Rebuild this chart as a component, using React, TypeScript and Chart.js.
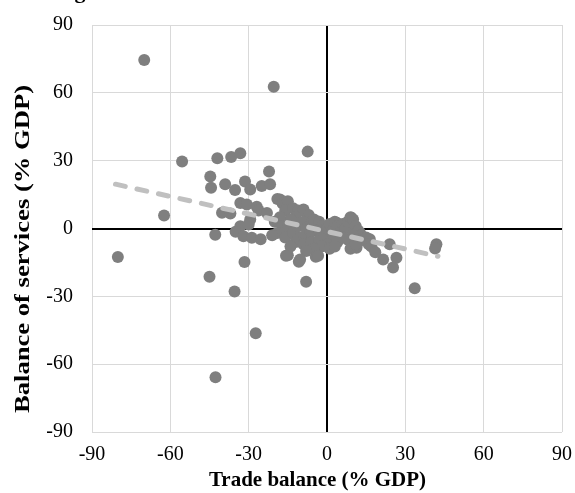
import React, { useEffect, useRef } from "react";
import { Chart, registerables } from "chart.js";

Chart.register(...registerables);

// Trade balance (% GDP), x values
const tradeBalance: number[] = [
  -70, -20.4, -7.4, -55.5, -62.4, -42, -36.7, -33.2, -44.7, -44.4,
  -39, -35.2, -31.4, -29.4, -22.2, -25, -21.8, -40.2, -37, -33.2,
  -30.7, -26.9, -26.2, -23, -29.4, -33.2, -30, -42.8, -35, -32,
  -28.8, -25.4, -80.1, -31.6, -45, -35.4, -27.3, -42.7, -15, -10.8,
  -8, -4.3, 33.6, 41.9, 41.4, 24, 21.5, 26.6, 25.3, 9.4,
  3.7, 12.6, 11.3, 16.4, 2.4, -18, -9, 8.8,
  -19, -17, -15, -16, -13, -11, -9, -7, -12, -14,
  -18, -20, -17, -15, -19, -21, -16, -13, -11, -9,
  -8, -6, -5, -3, -2, -4, -7, -10, -12, -14,
  -9, -6, -3, -1, 0, 1, 2, 3, 4, 5,
  6, 7, 8, 9, 10, 11, 12, 13, 14, 15,
  16, 17, 12, 10, 8, 6, 4, 2, 0, -2,
  -5, -8, 1, 3, 9, 11, -15.7, -10.3, -3.4, 18.5,
];

// Balance of services (% GDP), y values
const servicesBalance: number[] = [
  74.5, 62.7, 34, 29.6, 5.7, 31.1, 31.6, 33.3, 23, 18,
  19.6, 17, 20.8, 17.2, 25.2, 18.8, 19.6, 7, 6.6, 11.3,
  10.6, 9.6, 8, 6.9, 4, 1, 1.8, -2.8, -1.4, -3.4,
  -4.1, -4.8, -12.6, -14.8, -21.3, -27.9, -46.3, -65.8, -11.8, -14.7,
  -23.5, -12.5, -26.4, -7, -8.8, -7, -13.7, -12.9, -17.3, 4.7,
  2.5, -1.9, -8.5, -4.8, -7.8, 12.8, 8.4, 4,
  13, 11, 12, 8, 9, 8, 8, 6, 5, 4,
  5, 3, 1, 0, -2, -3, -4, -2, 1, 3,
  0, 2, 4, 3, 1, -1, -3, -4, -6, -8,
  -7, -6, -5, -3, 0, 2, -1, 3, 1, -2,
  2, 0, 3, 5, 4, 1, -1, -3, -5, -4,
  -7, -8, -6, -3, -5, -4, -6, -5, -7, -8,
  -9, -10, -9, -8, -9, -7, -12, -13.7, -12, -10.5,
];

// Linear trend line end points
const trendX: number[] = [-81, 42.5];
const trendY: number[] = [19.6, -12.3];

const tickValues: number[] = [-90, -60, -30, 0, 30, 60, 90];
const xTitle = "Trade balance (% GDP)";
const yTitle = "Balance of services (% GDP)";
const topTitle = "Figure";

const SERIF = '"Liberation Serif", "Times New Roman", serif';

const titlesPlugin = {
  id: "customTitles",
  afterDraw(chart: any) {
    const ctx = chart.ctx as CanvasRenderingContext2D;
    ctx.save();
    ctx.fillStyle = "#000";
    // x-axis title
    ctx.font = `bold 21px ${SERIF}`;
    ctx.textAlign = "center";
    ctx.textBaseline = "middle";
    ctx.fillText(xTitle, 317.5, 481);
    // y-axis title (stretched along its length like the reference)
    ctx.font = `bold 22px ${SERIF}`;
    const w = ctx.measureText(yTitle).width;
    ctx.translate(23, 249);
    ctx.rotate(-Math.PI / 2);
    ctx.scale(328 / w, 1);
    ctx.fillText(yTitle, 0, 0);
    ctx.restore();
    // cropped figure title at the very top
    ctx.save();
    ctx.font = `bold 22px ${SERIF}`;
    ctx.textAlign = "left";
    ctx.textBaseline = "alphabetic";
    ctx.fillStyle = "#000";
    ctx.fillText(topTitle, 55, -2);
    ctx.restore();
  },
};

export default function App() {
  const ref = useRef<HTMLCanvasElement | null>(null);

  useEffect(() => {
    document.body.style.margin = "0";
    if (!ref.current) return;
    const points = tradeBalance.map((x, i) => ({ x, y: servicesBalance[i] }));
    const trend = trendX.map((x, i) => ({ x, y: trendY[i] }));
    const gridColor = (c: any) => (c.tick && c.tick.value === 0 ? "#000000" : "#d9d9d9");
    const gridWidth = (c: any) => (c.tick && c.tick.value === 0 ? 2 : 1);
    const chart = new Chart(ref.current, {
      type: "scatter",
      data: {
        datasets: [
          {
            label: "Trend",
            data: trend,
            showLine: true,
            borderColor: "#c0c0c0",
            borderWidth: 5,
            borderDash: [10, 12],
            borderCapStyle: "round",
            pointRadius: 0,
            fill: false,
            order: 0,
          } as any,
          {
            label: "Countries",
            data: points,
            backgroundColor: "#7f7f7f",
            borderColor: "#7f7f7f",
            borderWidth: 0,
            pointRadius: 6,
            order: 1,
          },
        ],
      },
      options: {
        responsive: false,
        animation: false,
        layout: { padding: { top: 25, right: 13, left: 0, bottom: 0 } },
        plugins: { legend: { display: false }, tooltip: { enabled: false } },
        scales: {
          x: {
            type: "linear",
            min: -90,
            max: 90,
            afterBuildTicks: (s: any) => {
              s.ticks = tickValues.map((v) => ({ value: v }));
            },
            afterFit: (s: any) => {
              s.height = 61;
              s.paddingLeft = 0;
              s.paddingRight = 0;
            },
            ticks: {
              font: { family: SERIF, size: 20 },
              color: "#000",
              padding: 11,
              maxRotation: 0,
            },
            grid: { color: gridColor, lineWidth: gridWidth, drawTicks: false },
            border: { display: false },
          },
          y: {
            type: "linear",
            min: -90,
            max: 90,
            afterBuildTicks: (s: any) => {
              s.ticks = tickValues.map((v) => ({ value: v }));
            },
            afterFit: (s: any) => {
              s.width = 92;
              s.paddingTop = 0;
              s.paddingBottom = 0;
            },
            ticks: {
              font: { family: SERIF, size: 20 },
              color: "#000",
              padding: 19,
            },
            grid: { color: gridColor, lineWidth: gridWidth, drawTicks: false },
            border: { display: false },
          },
        },
      },
      plugins: [titlesPlugin],
    });
    return () => chart.destroy();
  }, []);

  return (
    <div style={{ width: 575, height: 493 }}>
      <canvas ref={ref} width={575} height={493} style={{ display: "block" }} />
    </div>
  );
}
